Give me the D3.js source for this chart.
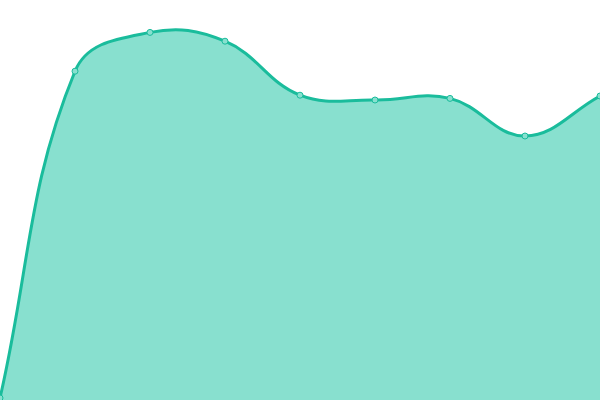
<!DOCTYPE html>
<html>
<head>
<meta charset="utf-8">
<script src="https://cdn.jsdelivr.net/npm/d3@7"></script>
<style>
  html, body { margin: 0; padding: 0; background: #fff; }
  svg { display: block; }
</style>
</head>
<body>
<svg id="chart" width="600" height="400"></svg>
<script>
var labels = [0, 1, 2, 3, 4, 5, 6, 7, 8];
var values = [0.5, 82.2, 91.9, 89.7, 76.2, 75, 75.4, 66, 76];

var width = 600, height = 400;
var svg = d3.select("#chart");

var xScale = d3.scaleLinear()
  .domain([0, labels.length - 1])
  .range([0, width]);

var yScale = d3.scaleLinear()
  .domain([0, 100])
  .range([height, 0]);

// spline with tension 0.4, control points scaled by neighbour distances,
// clamped to the drawing area
function SplineCurve(context) { this._context = context; }
SplineCurve.prototype = {
  areaStart: function() { this._line = 0; },
  areaEnd: function() { this._line = NaN; },
  lineStart: function() { this._pts = []; },
  point: function(x, y) { this._pts.push([+x, +y]); },
  lineEnd: function() {
    var p = this._pts, n = p.length, c = this._context, t = 0.4;
    if (!n) return;
    if (this._line) c.lineTo(p[0][0], p[0][1]);
    else c.moveTo(p[0][0], p[0][1]);
    var cpPrev = [], cpNext = [];
    var clamp = function(v, lo, hi) { return Math.max(lo, Math.min(hi, v)); };
    for (var i = 0; i < n; i++) {
      var prev = p[Math.max(i - 1, 0)], cur = p[i], next = p[Math.min(i + 1, n - 1)];
      var d01 = Math.hypot(cur[0] - prev[0], cur[1] - prev[1]);
      var d12 = Math.hypot(next[0] - cur[0], next[1] - cur[1]);
      var s01 = d01 / (d01 + d12), s12 = d12 / (d01 + d12);
      if (isNaN(s01)) s01 = 0;
      if (isNaN(s12)) s12 = 0;
      var fa = t * s01, fb = t * s12;
      cpPrev[i] = [clamp(cur[0] - fa * (next[0] - prev[0]), 0, width),
                   clamp(cur[1] - fa * (next[1] - prev[1]), 0, height)];
      cpNext[i] = [clamp(cur[0] + fb * (next[0] - prev[0]), 0, width),
                   clamp(cur[1] + fb * (next[1] - prev[1]), 0, height)];
    }
    for (var j = 1; j < n; j++) {
      c.bezierCurveTo(cpNext[j - 1][0], cpNext[j - 1][1],
                      cpPrev[j][0], cpPrev[j][1], p[j][0], p[j][1]);
    }
    if (this._line || (this._line !== 0 && n === 1)) c.closePath();
    this._line = 1 - this._line;
  }
};
var curve = function(context) { return new SplineCurve(context); };

var area = d3.area()
  .x(function(d, i) { return xScale(labels[i]); })
  .y0(height)
  .y1(function(d) { return yScale(d); })
  .curve(curve);

var line = d3.line()
  .x(function(d, i) { return xScale(labels[i]); })
  .y(function(d) { return yScale(d); })
  .curve(curve);

svg.append("path")
  .datum(values)
  .attr("d", area)
  .attr("fill", "#88e0cf");

svg.append("path")
  .datum(values)
  .attr("d", line)
  .attr("fill", "none")
  .attr("stroke", "#1abc9c")
  .attr("stroke-width", 3);

svg.selectAll("circle")
  .data(values)
  .enter()
  .append("circle")
  .attr("cx", function(d, i) { return xScale(labels[i]); })
  .attr("cy", function(d) { return yScale(d); })
  .attr("r", 3)
  .attr("fill", "#88e0cf")
  .attr("stroke", "#1abc9c")
  .attr("stroke-width", 1);
</script>
</body>
</html>
